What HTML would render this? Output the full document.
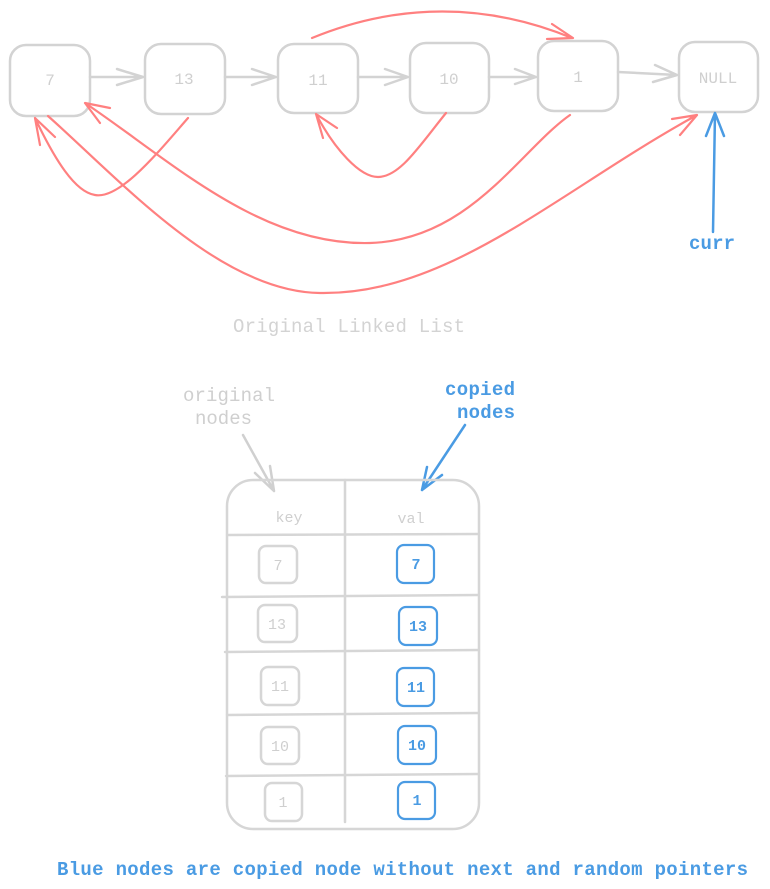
<!DOCTYPE html>
<html><head><meta charset="utf-8"><style>
html,body{margin:0;padding:0;background:#fff;}
svg{display:block;}
text{font-family:"Liberation Mono","DejaVu Sans Mono",monospace;}
</style></head><body>
<svg width="770" height="889" viewBox="0 0 770 889" xmlns="http://www.w3.org/2000/svg">
<g fill="none" stroke="#d3d3d3" stroke-width="2.5" stroke-linecap="round" stroke-linejoin="round">
  <rect x="10" y="45" width="80" height="71" rx="16"/>
  <rect x="145" y="44" width="80" height="70" rx="16"/>
  <rect x="278" y="44" width="80" height="69" rx="16"/>
  <rect x="410" y="43" width="79" height="70" rx="16"/>
  <rect x="538" y="41" width="80" height="70" rx="16"/>
  <rect x="679" y="42" width="79" height="70" rx="16"/>
  <path d="M90,77 L143,77 M117,69 L143,77 L117,85"/>
  <path d="M225,77 L276,77 M252,69 L276,77 L252,85"/>
  <path d="M358,77 L408,77 M385,69 L408,77 L385,85"/>
  <path d="M489,77 L536,77 M515,69 L536,77 L515,84"/>
  <path d="M618,72 L677,75 M655,65 L677,75 L653,82"/>
</g>
<g font-size="16" fill="#cfcfcf" text-anchor="middle">
  <text x="50" y="85">7</text>
  <text x="184" y="84">13</text>
  <text x="318" y="85">11</text>
  <text x="449" y="84">10</text>
  <text x="578" y="82">1</text>
  <text x="718" y="83">NULL</text>
</g>
<g fill="none" stroke="#ff8080" stroke-width="2.2" stroke-linecap="round" stroke-linejoin="round">
  <path d="M312,38 C380,10 470,-4 572,38 M552,24 L573,38 L547,39"/>
  <path d="M188,118 C160,150 120,200 95,195 C75,192 55,160 35,118 M40,145 L35,118 L55,137"/>
  <path d="M48,116 C120,180 220,292 320,293 C450,295 560,190 697,115 M672,119 L697,115 L680,135"/>
  <path d="M570,115 C520,150 470,240 370,243 C260,246 170,160 85,103 M110,108 L85,103 L100,123"/>
  <path d="M446,113 C420,145 400,177 378,177 C360,177 335,150 316,114 M323,138 L316,114 L337,128"/>
</g>
<g fill="none" stroke="#4a9be3" stroke-width="2.5" stroke-linecap="round" stroke-linejoin="round">
  <path d="M713,232 L715,113 M706,136 L715,113 L724,136"/>
</g>
<text x="689" y="249" font-size="19" font-weight="bold" fill="#4a9be3" textLength="46">curr</text>
<text x="233" y="332" font-size="19" fill="#d3d3d3" textLength="232">Original Linked List</text>

<g font-size="19" fill="#cfcfcf">
  <text x="183" y="401" textLength="92">original</text>
  <text x="195" y="424" textLength="57">nodes</text>
</g>
<g font-size="19" font-weight="bold" fill="#4a9be3">
  <text x="445" y="395" textLength="70">copied</text>
  <text x="457" y="418" textLength="58">nodes</text>
</g>
<g fill="none" stroke="#d0d0d0" stroke-width="2.5" stroke-linecap="round" stroke-linejoin="round">
  <path d="M243,435 L274,491 M255,473 L274,491 L270,466"/>
</g>
<g fill="none" stroke="#4a9be3" stroke-width="2.5" stroke-linecap="round" stroke-linejoin="round">
  <path d="M465,425 L422,490 M427,467 L422,490 L442,475"/>
</g>

<g fill="none" stroke="#d6d6d6" stroke-width="2.5" stroke-linecap="round">
  <rect x="227" y="480" width="252" height="349" rx="26"/>
  <path d="M345,480 L345,822"/>
  <path d="M227,535 L479,534"/>
  <path d="M222,597 L478,595"/>
  <path d="M225,652 L479,650"/>
  <path d="M227,715 L479,713"/>
  <path d="M226,776 L479,774"/>
  <rect x="259" y="546" width="38" height="37" rx="7"/>
  <rect x="258" y="605" width="39" height="37" rx="7"/>
  <rect x="261" y="667" width="38" height="38" rx="7"/>
  <rect x="261" y="727" width="38" height="37" rx="7"/>
  <rect x="265" y="783" width="37" height="38" rx="7"/>
</g>
<g fill="none" stroke="#4a9be3" stroke-width="2.2" stroke-linecap="round">
  <rect x="397" y="545" width="37" height="38" rx="7"/>
  <rect x="399" y="607" width="38" height="38" rx="7"/>
  <rect x="397" y="668" width="37" height="38" rx="7"/>
  <rect x="398" y="726" width="38" height="38" rx="7"/>
  <rect x="398" y="782" width="37" height="37" rx="7"/>
</g>
<g font-size="15" fill="#cfcfcf" text-anchor="middle">
  <text x="289" y="522">key</text>
  <text x="411" y="523">val</text>
  <text x="278" y="570">7</text>
  <text x="277" y="629">13</text>
  <text x="280" y="691">11</text>
  <text x="280" y="751">10</text>
  <text x="283" y="807">1</text>
</g>
<g font-size="15" font-weight="bold" fill="#4a9be3" text-anchor="middle">
  <text x="416" y="569">7</text>
  <text x="418" y="631">13</text>
  <text x="416" y="692">11</text>
  <text x="417" y="750">10</text>
  <text x="417" y="805">1</text>
</g>
<text x="57" y="875" font-size="19" font-weight="bold" fill="#4a9be3" textLength="691">Blue nodes are copied node without next and random pointers</text>
</svg>
</body></html>
